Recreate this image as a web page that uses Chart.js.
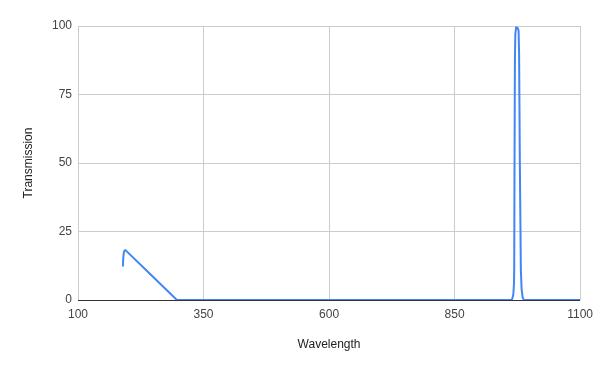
<!DOCTYPE html>
<html>
<head>
<meta charset="utf-8">
<script src="https://cdn.jsdelivr.net/npm/chart.js@4/dist/chart.umd.min.js"></script>
<style>
html,body{margin:0;padding:0;background:#fff;}
#wrap{width:600px;height:371px;}
</style>
</head>
<body>
<div id="wrap"><canvas id="c" width="600" height="371"></canvas></div>
<script>
const wavelengths = [189.5, 190, 191, 192.5, 194.5, 297, 963, 965, 967, 968.3, 968.8, 969.4, 970.2, 971, 972.5, 975.5, 977.5, 978.5, 980, 982, 983.5, 985.5, 988, 1100];
const transmission = [12.5, 15, 17, 18, 18.2, 0, 0, 0.5, 2, 6, 11, 50, 88, 97, 99.5, 99.3, 98.3, 90, 50, 11, 4, 1, 0, 0];
const xTicks = [100, 350, 600, 850, 1100];
const yTicks = [0, 25, 50, 75, 100];

const points = wavelengths.map((w, i) => ({x: w, y: transmission[i]}));

new Chart(document.getElementById('c'), {
  type: 'line',
  data: {
    datasets: [{
      data: points,
      borderColor: '#4285F4',
      borderWidth: 2,
      pointRadius: 0,
      tension: 0.001,
      fill: false,
      borderJoinStyle: 'round',
      borderCapStyle: 'round'
    }]
  },
  options: {
    responsive: false,
    animation: false,
    layout: {padding: {left: 0, right: 19, top: 26, bottom: 0}},
    plugins: {legend: {display: false}, tooltip: {enabled: false}},
    scales: {
      x: {
        type: 'linear',
        min: 100, max: 1100,
        afterBuildTicks: s => { s.ticks = xTicks.map(v => ({value: v})); },
        afterFit: s => { s.height = 71; },
        grid: {color: '#cccccc', drawTicks: false, lineWidth: 1},
        border: {display: false},
        ticks: {color: '#444', font: {family: 'Liberation Sans, Arial', size: 12}, padding: 7, maxRotation: 0, autoSkip: false,
                callback: v => String(v)},
        title: {display: true, text: 'Wavelength', color: '#222', font: {family: 'Liberation Sans, Arial', size: 12}, padding: {top: 0, bottom: 19}}
      },
      y: {
        min: 0, max: 100,
        afterBuildTicks: s => { s.ticks = yTicks.map(v => ({value: v})); },
        afterFit: s => { s.width = 78; },
        grid: {
          color: ctx => ctx.tick && ctx.tick.value === 0 ? '#333333' : '#cccccc',
          drawTicks: false, lineWidth: 1
        },
        border: {display: false},
        ticks: {color: '#444', font: {family: 'Liberation Sans, Arial', size: 12}, padding: 6, callback: v => String(v)},
        title: {display: true, text: 'Transmission', color: '#222', font: {family: 'Liberation Sans, Arial', size: 12}, padding: {top: 21, bottom: 0}}
      }
    }
  }
});
</script>
</body>
</html>
